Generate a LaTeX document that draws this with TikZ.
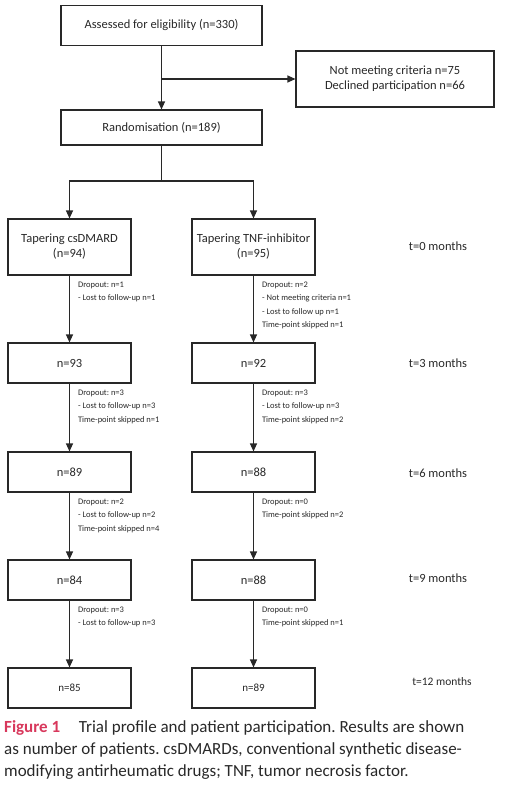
\documentclass[tikz,border=0pt]{standalone}
\usepackage{fontspec}
\setmainfont{Carlito}
\usepackage{xcolor}
\usepackage{tikz}
\usetikzlibrary{arrows.meta, positioning}
\definecolor{figred}{RGB}{216,56,92}
\definecolor{ink}{RGB}{40,40,40}
\frenchspacing

\begin{document}
\begin{tikzpicture}[x=1pt, y=-1pt,
box/.style={rectangle, draw=ink, line width=1.1pt, text=ink, minimum width=123pt, minimum height=40pt, inner sep=2pt, align=center, font=\fontsize{12.5}{15}\selectfont},
wide/.style={box, minimum width=201pt},
note/.style={anchor=north west, text=ink, align=left, inner sep=0pt, xshift=8pt, yshift=-6pt, font=\fontsize{8.5}{13.3}\selectfont},
time/.style={text=ink, font=\fontsize{12.5}{14}\selectfont},
arr/.style={draw=ink, line width=1.1pt, -{Triangle[length=8pt,width=7pt]}}
]
	\useasboundingbox (0,0) rectangle (505,800);
	\node[wide] (n1) at (161.5,25.5) {Assessed for eligibility (n=330)};
	\node[box, minimum width=198pt, minimum height=56pt] (n2) at (395,79) {Not meeting criteria n=75\\Declined participation n=66};
	\node[wide, minimum height=35pt] (n3) at (161.5,127.5) {Randomisation (n=189)};

	\node[box, minimum height=56pt] (l0) at (69.5,247) {Tapering csDMARD\\(n=94)};
	\node[box, minimum height=56pt] (r0) at (253.5,247) {Tapering TNF-inhibitor\\(n=95)};
	\node[box] (l3) at (69.5,363) {n=93};
	\node[box] (r3) at (253.5,363) {n=92};
	\node[box] (l6) at (69.5,472) {n=89};
	\node[box] (r6) at (253.5,472) {n=88};
	\node[box] (l9) at (69.5,580) {n=84};
	\node[box] (r9) at (253.5,580) {n=88};
	\node[box, font=\fontsize{11}{13}\selectfont] (l12) at (69.5,688) {n=85};
	\node[box, font=\fontsize{11}{13}\selectfont] (r12) at (253.5,688) {n=89};

	\node[time] (t0) at (438,246) {t=0 months};
	\node[time] (t3) at (438,363) {t=3 months};
	\node[time] (t6) at (438,473) {t=6 months};
	\node[time] (t9) at (438,578) {t=9 months};
	\node[time, font=\fontsize{11.5}{13}\selectfont] (t12) at (442,682) {t=12 months};

	\coordinate (b1) at (n1.south |- n2.west);
	\coordinate (b2) at (161.5,181);

	\draw[arr] (n1) -- (n3);
	\draw[arr] (b1) -- (n2);
	\draw[draw=ink, line width=1.1pt] (n3) -- (b2);
	\draw[arr] (b2) -| (l0);
	\draw[arr] (b2) -| (r0);

	\draw[arr] (l0) -- node[note, pos=0] {Dropout: n=1\\- Lost to follow-up n=1} (l3);
	\draw[arr] (r0) -- node[note, pos=0] {Dropout: n=2\\- Not meeting criteria n=1\\- Lost to follow up n=1\\Time-point skipped n=1} (r3);
	\draw[arr] (l3) -- node[note, pos=0] {Dropout: n=3\\- Lost to follow-up n=3\\Time-point skipped n=1} (l6);
	\draw[arr] (r3) -- node[note, pos=0] {Dropout: n=3\\- Lost to follow-up n=3\\Time-point skipped n=2} (r6);
	\draw[arr] (l6) -- node[note, pos=0] {Dropout: n=2\\- Lost to follow-up n=2\\Time-point skipped n=4} (l9);
	\draw[arr] (r6) -- node[note, pos=0] {Dropout: n=0\\Time-point skipped n=2} (r9);
	\draw[arr] (l9) -- node[note, pos=0] {Dropout: n=3\\- Lost to follow-up n=3} (l12);
	\draw[arr] (r9) -- node[note, pos=0] {Dropout: n=0\\Time-point skipped n=1} (r12);

	\node[anchor=north west, inner sep=0pt, align=left, text=ink, font=\fontsize{17}{22}\selectfont] (cap) at (4,720)
		{\textcolor{figred}{\bfseries Figure 1}\hspace{1.1em}Trial profile and patient participation. Results are shown\\as number of patients. csDMARDs, conventional synthetic disease-\\modifying antirheumatic drugs; TNF, tumor necrosis factor.};
\end{tikzpicture}
\end{document}
